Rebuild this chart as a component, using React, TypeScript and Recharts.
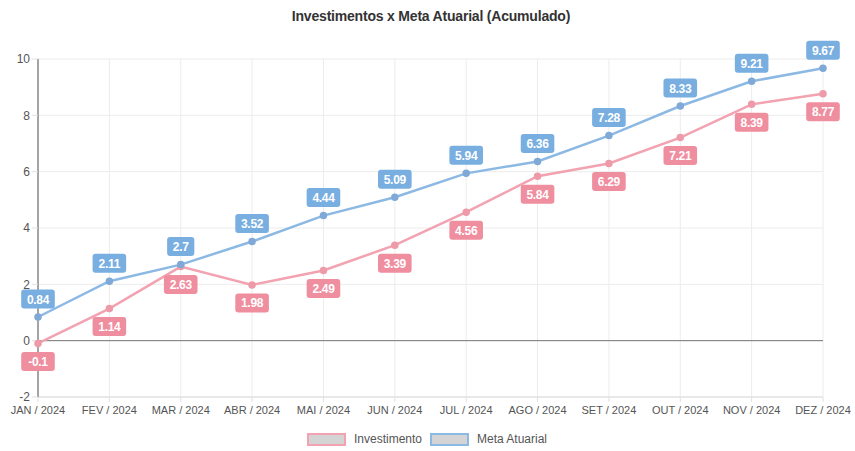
import React from 'react';
import { LineChart, Line, XAxis, YAxis, CartesianGrid, ReferenceLine, LabelList } from 'recharts';

const months = ['JAN / 2024', 'FEV / 2024', 'MAR / 2024', 'ABR / 2024', 'MAI / 2024', 'JUN / 2024', 'JUL / 2024', 'AGO / 2024', 'SET / 2024', 'OUT / 2024', 'NOV / 2024', 'DEZ / 2024'];
const investimento = [-0.1, 1.14, 2.63, 1.98, 2.49, 3.39, 4.56, 5.84, 6.29, 7.21, 8.39, 8.77];
const metaAtuarial = [0.84, 2.11, 2.7, 3.52, 4.44, 5.09, 5.94, 6.36, 7.28, 8.33, 9.21, 9.67];
const yTicks = [-2, 0, 2, 4, 6, 8, 10];

const data = months.map((m, i) => ({ month: m, inv: investimento[i], meta: metaAtuarial[i] }));

const PINK = '#f2a2b0';
const PINK_BOX = '#ef8e9f';
const BLUE = '#8cb9e3';
const BLUE_BOX = '#79aee0';

const makeLabel = (bg: string, above: boolean) => (props: any) => {
  const { x, y, value } = props;
  if (value == null) return null;
  const text = String(value);
  const w = text.length * 6.4 + 8;
  const h = 19;
  const cy = above ? y - 18 : y + 18;
  return (
    <g>
      <rect x={x - w / 2} y={cy - h / 2} width={w} height={h} rx={3} fill={bg} />
      <text x={x} y={cy + 4.5} textAnchor="middle" fill="#fff" fontSize={12} fontWeight="bold" letterSpacing={-0.3} fontFamily="'Liberation Sans', Arial, sans-serif">
        {text}
      </text>
    </g>
  );
};

const LegendItem = ({ color, label }: { color: string; label: string }) => (
  <div style={{ display: 'flex', alignItems: 'center', marginRight: 8 }}>
    <div style={{ width: 35, height: 9, background: '#d4d4d4', border: `2px solid ${color}`, marginRight: 8 }} />
    <span style={{ fontSize: 12, color: '#555' }}>{label}</span>
  </div>
);

export default function App() {
  return (
    <div style={{ position: 'absolute', left: 0, top: 0, width: 855, height: 451, background: '#fff', fontFamily: "'Liberation Sans', Arial, sans-serif" }}>
      <div style={{ position: 'absolute', top: 8, left: 0, width: 862, textAlign: 'center', fontSize: 14, fontWeight: 'bold', color: '#333', letterSpacing: -0.2 }}>
        Investimentos x Meta Atuarial (Acumulado)
      </div>
      <LineChart width={855} height={451} data={data} margin={{ top: 59, right: 32, left: 8, bottom: 29 }}>
        <CartesianGrid stroke="#ececec" vertical={true} />
        <XAxis
          dataKey="month"
          interval={0}
          height={25}
          tick={{ fill: '#555', fontSize: 11 }}
          tickLine={{ stroke: '#e0e0e0' }}
          axisLine={{ stroke: '#dcdcdc' }}
          tickSize={5}
          tickMargin={4}
        />
        <YAxis
          domain={[-2, 10]}
          ticks={yTicks}
          width={30}
          tick={{ fill: '#555', fontSize: 12 }}
          axisLine={{ stroke: '#888', strokeWidth: 1.5 }}
          tickLine={{ stroke: '#e0e0e0' }}
          tickSize={6}
        />
        <ReferenceLine y={0} stroke="#777" strokeWidth={1} />
        <Line type="linear" dataKey="inv" stroke={PINK} strokeWidth={2.5} dot={{ r: 2.5, fill: '#ee9aa8', stroke: '#ee9aa8' }} isAnimationActive={false}>
          <LabelList dataKey="inv" content={makeLabel(PINK_BOX, false)} />
        </Line>
        <Line type="linear" dataKey="meta" stroke={BLUE} strokeWidth={2.5} dot={{ r: 2.5, fill: '#7fa9d6', stroke: '#7fa9d6' }} isAnimationActive={false}>
          <LabelList dataKey="meta" content={makeLabel(BLUE_BOX, true)} />
        </Line>
      </LineChart>
      <div style={{ position: 'absolute', top: 432, left: 0, width: 862, display: 'flex', justifyContent: 'center' }}>
        <LegendItem color={PINK} label="Investimento" />
        <LegendItem color={BLUE} label="Meta Atuarial" />
      </div>
    </div>
  );
}
